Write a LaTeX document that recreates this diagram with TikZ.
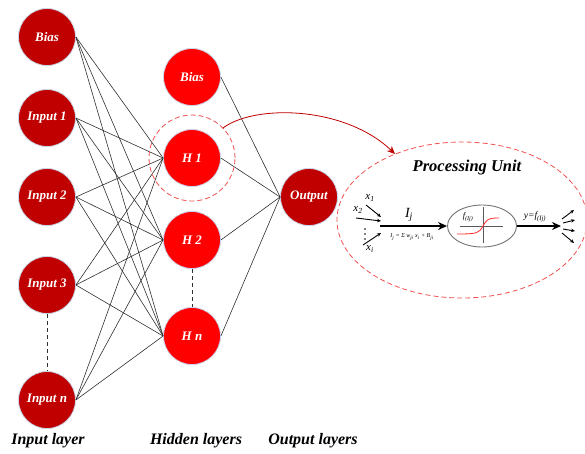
\documentclass[tikz,border=0pt]{standalone}
\usepackage{fontspec}
\setmainfont{Liberation Serif}
\usetikzlibrary{arrows.meta,shapes.geometric}
\definecolor{darkred}{HTML}{C00000}
\definecolor{brightred}{HTML}{FF0000}
\definecolor{dashred}{HTML}{F05050}
\definecolor{halo}{HTML}{C8D6EA}
\definecolor{edge}{HTML}{303030}
\tikzset{
  neuron/.style={circle, minimum size=57pt, inner sep=0pt, text=white, draw=halo, line width=0.8pt,
    font=\bfseries\itshape\fontsize{13}{14}\selectfont},
  inneuron/.style={neuron, fill=darkred},
  hidneuron/.style={neuron, fill=brightred},
  conn/.style={draw=edge, line width=0.6pt},
  gap/.style={draw=edge, line width=0.7pt, dash pattern=on 4pt off 3pt},
  reddash/.style={draw=dashred, line width=0.8pt, dash pattern=on 5pt off 3pt},
  layerlabel/.style={font=\bfseries\itshape\fontsize{16}{18}\selectfont, text=black},
  thickarrow/.style={line width=2pt, -{Stealth[length=9pt,width=8pt]}},
  thinarrow/.style={line width=0.9pt, -{Stealth[length=4pt,width=3.5pt]}},
}
\begin{document}
\begin{tikzpicture}[x=1pt,y=-1pt]
\useasboundingbox (0,0) rectangle (585,453);
% input layer
\node[inneuron] (ib) at (47,37) {Bias};
\node[inneuron] (i1) at (47,118) {Input 1};
\node[inneuron] (i2) at (47,197) {Input 2};
\node[inneuron] (i3) at (47,285) {Input 3};
\node[inneuron] (in) at (47,400) {Input n};
% hidden layer
\node[hidneuron] (hb) at (192,77) {Bias};
\node[hidneuron] (h1) at (192,158) {H 1};
\node[hidneuron] (h2) at (192,240) {H 2};
\node[hidneuron] (hn) at (192,336) {H n};
% output
\node[inneuron] (out) at (309,197) {Output};
% connections
\foreach \s in {ib,i1,i2,i3,in}{
  \foreach \t in {h1,h2,hn}{
    \draw[conn] (\s.east) -- (\t.west);
  }
}
\foreach \s in {hb,h1,h2,hn}{
  \draw[conn] (\s.east) -- (out.west);
}
\draw[gap] (i3.south) -- (in.north);
\draw[gap] (h2.south) -- (hn.north);
% dashed highlight
\node[circle, reddash, minimum size=86pt, inner sep=0pt] (h1ring) at (192,158) {};
\node[ellipse, reddash, minimum width=250pt, minimum height=156pt, inner sep=0pt] (pu) at (462,220) {};
\coordinate (arrstart) at (223,128);
\coordinate (arrend) at (395,154);
\draw[draw=darkred, line width=0.8pt, -{Stealth[length=8pt,width=7pt]}]
  (arrstart) .. controls (255,104) and (345,106) .. (arrend);
% processing unit
\node[font=\bfseries\itshape\fontsize{16.5}{18}\selectfont] (putitle) at (467,168) {Processing Unit};
\node[font=\itshape\fontsize{11}{12}\selectfont, inner sep=0pt] (x1) at (370,198) {x\textsubscript{1}};
\node[font=\itshape\fontsize{11}{12}\selectfont, inner sep=0pt] (x2) at (358,210) {x\textsubscript{2}};
\node[font=\itshape\fontsize{11}{12}\selectfont, inner sep=0pt] (xi) at (370,249) {x\textsubscript{i}};
\fill (365,229) circle (0.9pt) (365,234) circle (0.9pt) (365,239) circle (0.9pt);
\coordinate (a1s) at (366,205); \coordinate (a1e) at (381,217);
\coordinate (a2s) at (356,218); \coordinate (a2e) at (381,221);
\coordinate (a3s) at (363,245); \coordinate (a3e) at (381,233);
\draw[thinarrow] (a1s) -- (a1e);
\draw[thinarrow] (a2s) -- (a2e);
\draw[thinarrow] (a3s) -- (a3e);
\node[ellipse, draw=gray!90!black, line width=0.9pt, minimum width=69pt, minimum height=42pt, inner sep=0pt] (act) at (482,226) {};
\coordinate (sumstart) at (380,226);
\draw[thickarrow] (sumstart) -- (act.west);
\node[font=\itshape\fontsize{14}{15}\selectfont] (ij) at (409,215) {I\textsubscript{j}};
\node[font=\itshape\fontsize{6}{7}\selectfont] (formula) at (412,237) {I\textsubscript{j} = Σ w\textsubscript{ji} x\textsubscript{i} + B\textsubscript{ji}};
% activation plot
\draw[draw=gray!70!black, line width=0.8pt] (460,226) -- (503,226);
\draw[draw=gray!70!black, line width=0.8pt] (483,207) -- (483,243);
\draw[draw=red!85!white, line width=0.8pt] (457,234) .. controls (478,234) and (479,233) .. (483,226) .. controls (487,219) and (488,218) .. (499,218);
\node[font=\itshape\fontsize{8.5}{9}\selectfont, inner sep=0pt] (fij) at (468,217) {f\textsubscript{(Ij)}};
\coordinate (yend) at (561,226);
\draw[thickarrow] (act.east) -- (yend);
\node[font=\itshape\fontsize{9.5}{10}\selectfont, inner sep=0pt] (ylab) at (535,217) {y=f\textsubscript{(Ij)}};
\coordinate (o1s) at (562,219); \coordinate (o1e) at (574,210);
\coordinate (o2s) at (563,223); \coordinate (o2e) at (575,220);
\coordinate (o3s) at (563,229); \coordinate (o3e) at (575,231);
\coordinate (o4s) at (562,233); \coordinate (o4e) at (574,243);
\draw[thinarrow] (o1s) -- (o1e);
\draw[thinarrow] (o2s) -- (o2e);
\draw[thinarrow] (o3s) -- (o3e);
\draw[thinarrow] (o4s) -- (o4e);
% layer labels
\node[layerlabel] (linput) at (48,441) {Input layer};
\node[layerlabel] (lhidden) at (196,441) {Hidden layers};
\node[layerlabel] (loutput) at (313,441) {Output layers};
\end{tikzpicture}
\end{document}
